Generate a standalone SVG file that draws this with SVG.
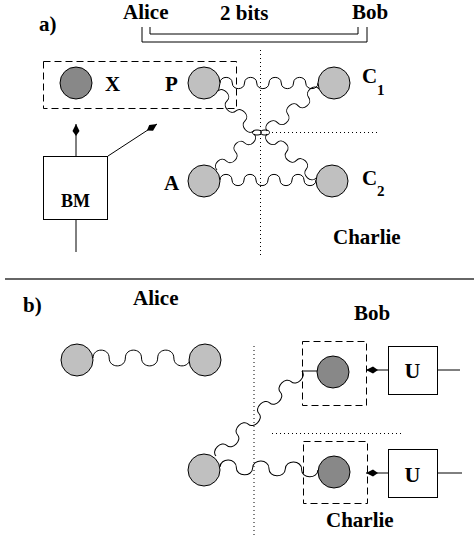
<svg xmlns="http://www.w3.org/2000/svg" width="474" height="537" viewBox="0 0 474 537">
<style>
text{font-family:"Liberation Serif","Times New Roman",serif;font-weight:bold;fill:#000}
.lbl{font-size:21px}
.sub{font-size:15px}
.wave{fill:none;stroke:#000;stroke-width:1}
.ln{fill:none;stroke:#000;stroke-width:1}
.dash{fill:none;stroke:#000;stroke-width:1;stroke-dasharray:7 4}
.dot{fill:none;stroke:#000;stroke-width:1;stroke-dasharray:1 3}
.light{fill:#c0c0c0;stroke:#000;stroke-width:1}
.dark{fill:#888;stroke:#000;stroke-width:1}
.box{fill:#fff;stroke:#000;stroke-width:1}
</style>
<defs>
<marker id="kite" markerUnits="userSpaceOnUse" markerWidth="16" markerHeight="10" viewBox="-14 -5 16 10" refX="0" refY="0" orient="auto">
<path d="M0,0 L-7,-3.5 L-12,0 L-7,3.5 z" fill="#000"/>
</marker>
</defs>

<!-- Part a labels -->
<text class="lbl" x="39" y="31">a)</text>
<g id="a-alice-label"><text class="lbl" x="123" y="19">Alice</text></g>
<g id="a-bits-label"><text class="lbl" x="220" y="20">2 bits</text></g>
<g id="a-bob-label"><text class="lbl" x="352" y="19">Bob</text></g>
<g id="a-charlie-label"><text class="lbl" x="333" y="244">Charlie</text></g>

<!-- dotted separators a -->
<line class="dot" x1="260.5" y1="50" x2="260.5" y2="258"/>
<line class="dot" x1="272" y1="132.5" x2="378" y2="132.5"/>

<g id="connectors">
<!-- bracket -->
<path class="ln" d="M142,27 V42 H367 V27"/>
<path class="ln" d="M150,27 V34 H358 V27"/>
<!-- BM arrows -->
<line class="ln" x1="76" y1="156" x2="76" y2="124" marker-end="url(#kite)"/>
<line class="ln" x1="108" y1="156" x2="157" y2="124" marker-end="url(#kite)"/>
<line class="ln" x1="76" y1="220" x2="76" y2="252"/>
<!-- a waves -->
<path class="wave" transform="translate(220,83)" d="M0,0 c0,-7.5 12.25,-7.5 12.25,0 c0,7.5 12.25,7.5 12.25,0 c0,-7.5 12.25,-7.5 12.25,0 c0,7.5 12.25,7.5 12.25,0 c0,-7.5 12.25,-7.5 12.25,0 c0,7.5 12.25,7.5 12.25,0 c0,-7.5 12.25,-7.5 12.25,0 c0,7.5 12.25,7.5 12.25,0"/>
<path class="wave" transform="translate(218,91) rotate(48)" d="M0,0 c0,-7.5 13.45,-7.5 13.45,0 c0,7.5 13.45,7.5 13.45,0 c0,-7.5 13.45,-7.5 13.45,0 c0,7.5 13.45,7.5 13.45,0"/>
<path class="wave" transform="translate(319,89) rotate(141)" d="M0,0 c0,7.5 13.36,7.5 13.36,0 c0,-7.5 13.36,-7.5 13.36,0 c0,7.5 13.36,7.5 13.36,0 c0,-7.5 13.36,-7.5 13.36,0 c0,7.5 13.36,7.5 13.36,0"/>
<path class="wave" transform="translate(254,134) rotate(135.8)" d="M0,0 c0,-7.5 12.9,-7.5 12.9,0 c0,7.5 12.9,7.5 12.9,0 c0,-7.5 12.9,-7.5 12.9,0 c0,7.5 12.9,7.5 12.9,0"/>
<path class="wave" transform="translate(267,134) rotate(41.9)" d="M0,0 c0,7.5 13.18,7.5 13.18,0 c0,-7.5 13.18,-7.5 13.18,0 c0,7.5 13.18,7.5 13.18,0 c0,-7.5 13.18,-7.5 13.18,0 c0,7.5 13.18,7.5 13.18,0"/>
<path class="wave" transform="translate(220,180)" d="M0,0 c0,-7.5 12,-7.5 12,0 c0,7.5 12,7.5 12,0 c0,-7.5 12,-7.5 12,0 c0,7.5 12,7.5 12,0 c0,-7.5 12,-7.5 12,0 c0,7.5 12,7.5 12,0 c0,-7.5 12,-7.5 12,0 c0,7.5 12,7.5 12,0"/>
<ellipse class="wave" cx="257" cy="132.5" rx="4.5" ry="2.5"/>
<ellipse class="wave" cx="265" cy="132.5" rx="4.5" ry="2.5"/>
<!-- b waves -->
<path class="wave" transform="translate(93,358)" d="M0,0 c0,-10.5 16.17,-10.5 16.17,0 c0,10.5 16.17,10.5 16.17,0 c0,-10.5 16.17,-10.5 16.17,0 c0,10.5 16.17,10.5 16.17,0 c0,-10.5 16.17,-10.5 16.17,0 c0,10.5 16.17,10.5 16.17,0"/>
<path class="wave" transform="translate(220,467) rotate(1.7)" d="M0,0 c0,-9.5 16.33,-9.5 16.33,0 c0,9.5 16.33,9.5 16.33,0 c0,-9.5 16.33,-9.5 16.33,0 c0,9.5 16.33,9.5 16.33,0 c0,-9.5 16.33,-9.5 16.33,0 c0,9.5 16.33,9.5 16.33,0"/>
<path class="wave" transform="translate(216,456) rotate(-44.7)" d="M0,0 c0,-7.5 15.1,-7.5 15.1,0 c0,7.5 15.1,7.5 15.1,0 c0,-7.5 15.1,-7.5 15.1,0 c0,7.5 15.1,7.5 15.1,0 c0,-7.5 15.1,-7.5 15.1,0 c0,7.5 15.1,7.5 15.1,0 c0,-7.5 15.1,-7.5 15.1,0 c0,7.5 15.1,7.5 15.1,0"/>
<line class="ln" x1="302" y1="371" x2="318" y2="371"/>
<!-- U arrows -->
<line class="ln" x1="388" y1="370" x2="366" y2="370" marker-end="url(#kite)"/>
<line class="ln" x1="437" y1="370" x2="460" y2="370"/>
<line class="ln" x1="388" y1="473" x2="366" y2="473" marker-end="url(#kite)"/>
<line class="ln" x1="437" y1="473" x2="462" y2="473"/>
</g>

<!-- Part a nodes -->
<g id="a-alice-box"><rect class="dash" x="43.5" y="61.5" width="193" height="47"/></g>
<g id="a-X"><circle class="dark" cx="76" cy="83" r="16"/><text class="lbl" x="105" y="91">X</text></g>
<g id="a-P"><circle class="light" cx="204" cy="83" r="16"/><text class="lbl" x="165" y="91">P</text></g>
<g id="a-C1"><circle class="light" cx="334" cy="83" r="16"/><text class="lbl" x="362" y="83">C</text><text class="sub" x="377" y="95">1</text></g>
<g id="a-A"><circle class="light" cx="204" cy="181" r="16"/><text class="lbl" x="164" y="190">A</text></g>
<g id="a-C2"><circle class="light" cx="332" cy="181" r="16"/><text class="lbl" x="362" y="185">C</text><text class="sub" x="377" y="196">2</text></g>
<g id="a-BM"><rect class="box" x="43.5" y="156.5" width="64" height="63"/><text x="75.5" y="207" font-size="18" text-anchor="middle">BM</text></g>

<!-- separator -->
<line x1="5" y1="279" x2="474" y2="279" stroke="#333" stroke-width="1.5"/>

<!-- Part b -->
<text class="lbl" x="23" y="312">b)</text>
<g id="b-alice-label"><text class="lbl" x="133" y="305">Alice</text></g>
<g id="b-bob-label"><text class="lbl" x="354" y="320">Bob</text></g>
<g id="b-charlie-label"><text class="lbl" x="326" y="527">Charlie</text></g>
<line class="dot" x1="254" y1="346" x2="254" y2="537"/>
<line class="dot" x1="272" y1="433.5" x2="402" y2="433.5"/>

<g id="b-left1"><circle class="light" cx="77" cy="360" r="16"/></g>
<g id="b-left2"><circle class="light" cx="205" cy="360" r="16"/></g>
<g id="b-left3"><circle class="light" cx="204" cy="470" r="16"/></g>
<g id="b-bob-box"><rect class="dash" x="302.5" y="341.5" width="64" height="64"/><circle class="dark" cx="333" cy="372" r="16"/></g>
<g id="b-charlie-box"><rect class="dash" x="303.5" y="441.5" width="64" height="62"/><circle class="dark" cx="334" cy="472" r="16"/></g>
<g id="b-U1"><rect class="box" x="388.5" y="346.5" width="49" height="48"/><text x="412.5" y="378" font-size="22" text-anchor="middle">U</text></g>
<g id="b-U2"><rect class="box" x="388.5" y="449.5" width="49" height="48"/><text x="412.5" y="482" font-size="22" text-anchor="middle">U</text></g>
</svg>
